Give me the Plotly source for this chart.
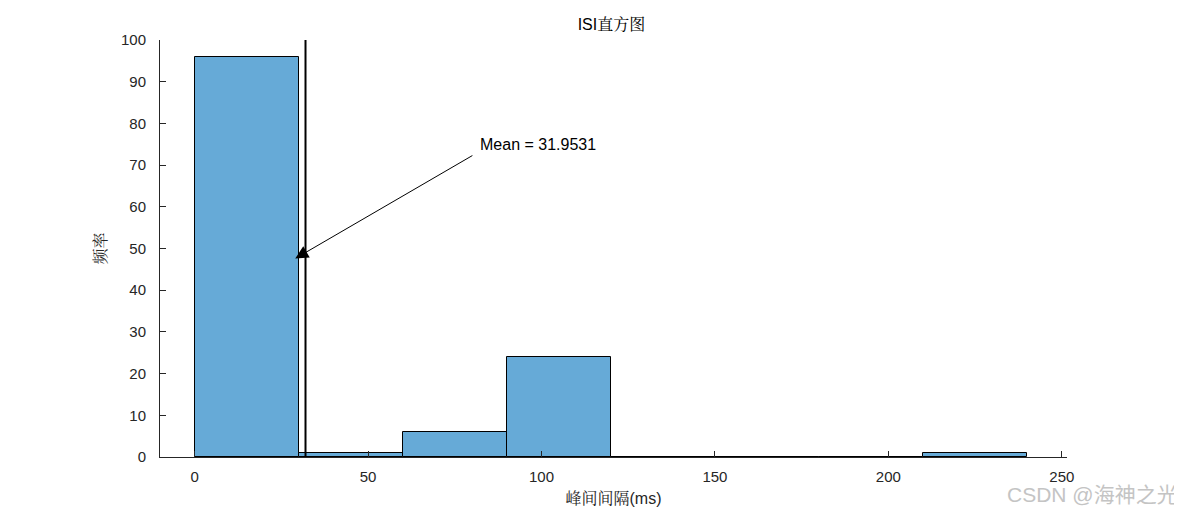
import plotly.graph_objects as go

# histogram of inter-spike intervals
bin_edges = [0, 30, 60, 90, 120, 150, 180, 210, 240]
counts = [96, 1, 6, 24, 0, 0, 0, 1]
mean_isi = 31.9531

# arrow annotation (data coords)
arrow_tail = (80.5, 72.5)
arrow_head = (29.0, 47.6)
label_pos = (81.8, 75.0)

centers = [(a + b) / 2 for a, b in zip(bin_edges[:-1], bin_edges[1:])]
widths = [b - a for a, b in zip(bin_edges[:-1], bin_edges[1:])]

font_num = 'Liberation Sans, Arial, sans-serif'
font_mix = 'Liberation Sans, Arial, Noto Serif CJK SC, serif'

fig = go.Figure()
fig.add_trace(go.Bar(
    x=centers, y=counts, width=widths,
    marker=dict(color='#66AAD7', line=dict(color='black', width=1)),
    showlegend=False, hoverinfo='x+y'
))

# mean line
fig.add_trace(go.Scatter(
    x=[mean_isi, mean_isi], y=[0, 100], mode='lines',
    line=dict(color='black', width=2), showlegend=False
))

fig.add_annotation(
    x=arrow_head[0], y=arrow_head[1], ax=arrow_tail[0], ay=arrow_tail[1],
    xref='x', yref='y', axref='x', ayref='y',
    showarrow=True, arrowhead=2, arrowsize=2.6, arrowwidth=1, arrowcolor='black', text=''
)
fig.add_annotation(
    x=label_pos[0], y=label_pos[1], xref='x', yref='y', showarrow=False,
    text=f'Mean = {mean_isi}', xanchor='left', yanchor='middle',
    font=dict(family=font_num, size=16, color='black')
)

# watermark
fig.add_annotation(
    x=1, y=0, xref='paper', yref='paper', xshift=113, yshift=-37,
    text='CSDN @海神之光', showarrow=False, xanchor='right', yanchor='middle',
    font=dict(family='Liberation Sans, Noto Sans CJK SC, sans-serif', size=21, color='#C4C4C4')
)

# page body has an 8px margin, so the figure is offset by 8px
fig.update_layout(
    width=1174, height=506,
    margin=dict(l=152, r=115, t=32, b=57),
    plot_bgcolor='white', paper_bgcolor='white',
    bargap=0,
    title=dict(text='ISI直方图', x=0.514, xanchor='center', y=0.968, yanchor='middle',
               font=dict(family=font_mix, size=16, color='black')),
    font=dict(family=font_num, size=15, color='#262626'),
)
fig.update_xaxes(
    range=[-10, 251.5], tickvals=[0, 50, 100, 150, 200, 250],
    ticks='inside', ticklen=6, tickcolor='#262626', ticklabelstandoff=6,
    showline=True, linecolor='#262626', linewidth=1, showgrid=False, zeroline=False,
    automargin=False,
    title=dict(text='峰间间隔(ms)', font=dict(family=font_mix, size=16, color='#262626'), standoff=8),
)
fig.update_yaxes(
    range=[0, 100], tickvals=list(range(0, 101, 10)),
    ticks='inside', ticklen=6, tickcolor='#262626', ticklabelstandoff=10,
    showline=True, linecolor='#262626', linewidth=1, showgrid=False, zeroline=False,
    automargin=False,
    title=dict(text='频率', font=dict(family=font_mix, size=16, color='#262626'), standoff=10),
)

fig.write_html("out.html")
